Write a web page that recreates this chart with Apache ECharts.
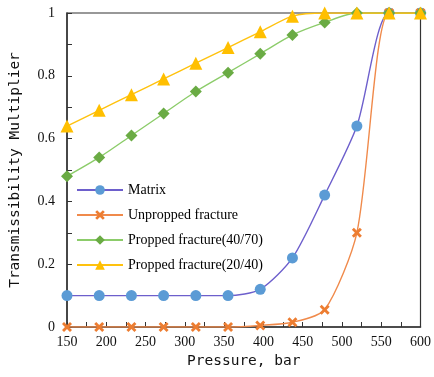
<!DOCTYPE html>
<html>
<head>
<meta charset="utf-8">
<script src="https://cdn.jsdelivr.net/npm/echarts@6/dist/echarts.min.js"></script>
<style>
  html, body { margin: 0; padding: 0; background: #fff; }
  #chart { width: 434px; height: 377px; }
</style>
</head>
<body>
<div id="chart"></div>
<script>
// Pressure steps (bar) at which the multipliers were evaluated
const pressure = [150, 191, 232, 273, 314, 355, 396, 437, 478, 519, 560, 600];

// Transmissibility multiplier per medium
const matrix     = [0.10, 0.10, 0.10, 0.10, 0.10, 0.10, 0.12, 0.22, 0.42, 0.64, 1.00, 1.00];
const unpropped  = [0.00, 0.00, 0.00, 0.00, 0.00, 0.00, 0.005, 0.015, 0.055, 0.30, 1.00, 1.00];
const propped4070 = [0.48, 0.54, 0.61, 0.68, 0.75, 0.81, 0.87, 0.93, 0.97, 1.00, 1.00, 1.00];
const propped2040 = [0.64, 0.69, 0.74, 0.79, 0.84, 0.89, 0.94, 0.99, 1.00, 1.00, 1.00, 1.00];

const seriesNames = ['Matrix', 'Unpropped fracture', 'Propped fracture(40/70)', 'Propped fracture(20/40)'];

const pairs = ys => pressure.map((p, i) => [p, ys[i]]);

const serif = '"Liberation Serif", "Times New Roman", serif';
const mono = '"DejaVu Sans Mono", monospace';

// filled "x" marker
const crossSymbol = 'path://M2,0 L5,3 L8,0 L10,2 L7,5 L10,8 L8,10 L5,7 L2,10 L0,8 L3,5 L0,2 Z';

function lineSeries(name, ys, lineColor, markColor, symbol, size) {
  return {
    name: name,
    type: 'line',
    data: pairs(ys),
    smooth: 0.25,
    symbol: symbol,
    symbolSize: size,
    clip: true,
    lineStyle: { color: lineColor, width: 1.4 },
    itemStyle: { color: markColor },
    emphasis: { disabled: true }
  };
}

const chart = echarts.init(document.getElementById('chart'), null, { renderer: 'canvas' });

chart.setOption({
  animation: false,
  backgroundColor: '#ffffff',
  grid: {
    left: 65, right: 13, top: 13, bottom: 50,
    show: true, borderColor: '#333', borderWidth: 1.2
  },
  legend: {
    orient: 'vertical',
    left: 71, top: 178,
    itemWidth: 46, itemHeight: 12, itemGap: 11,
    textStyle: { fontFamily: serif, fontSize: 14, color: '#000' },
    data: seriesNames
  },
  xAxis: {
    type: 'value',
    min: 150, max: 600, interval: 50,
    name: 'Pressure, bar',
    nameLocation: 'middle',
    nameGap: 25,
    nameTextStyle: { fontFamily: mono, fontSize: 14.5, color: '#111' },
    axisLine: { show: true, lineStyle: { color: '#333', width: 1.5 } },
    axisTick: { show: true, inside: true, length: 5, lineStyle: { color: '#333' } },
    minorTick: { show: true, splitNumber: 2, length: 5, lineStyle: { color: '#333' } },
    splitLine: { show: false },
    axisLabel: { fontFamily: serif, fontSize: 14, color: '#111', margin: 8 }
  },
  yAxis: {
    type: 'value',
    min: 0, max: 1, interval: 0.2,
    name: 'Transmissibility Multiplier',
    nameLocation: 'middle',
    nameGap: 44,
    nameTextStyle: { fontFamily: mono, fontSize: 14.5, color: '#111' },
    axisLine: { show: true, lineStyle: { color: '#333', width: 1.5 } },
    axisTick: { show: true, inside: true, length: 5, lineStyle: { color: '#333' } },
    minorTick: { show: true, splitNumber: 2, length: 5, lineStyle: { color: '#333' } },
    splitLine: { show: false },
    axisLabel: { fontFamily: serif, fontSize: 14, color: '#111', margin: 12 }
  },
  series: [
    lineSeries(seriesNames[0], matrix, '#6d5fcc', '#5b9bd5', 'circle', 11),
    lineSeries(seriesNames[1], unpropped, '#f08a4b', '#ed7d31', crossSymbol, 10),
    lineSeries(seriesNames[2], propped4070, '#8ccc6a', '#6aab44', 'diamond', 12),
    lineSeries(seriesNames[3], propped2040, '#ffc20e', '#ffbf00', 'triangle', 13)
  ]
});
</script>
</body>
</html>
